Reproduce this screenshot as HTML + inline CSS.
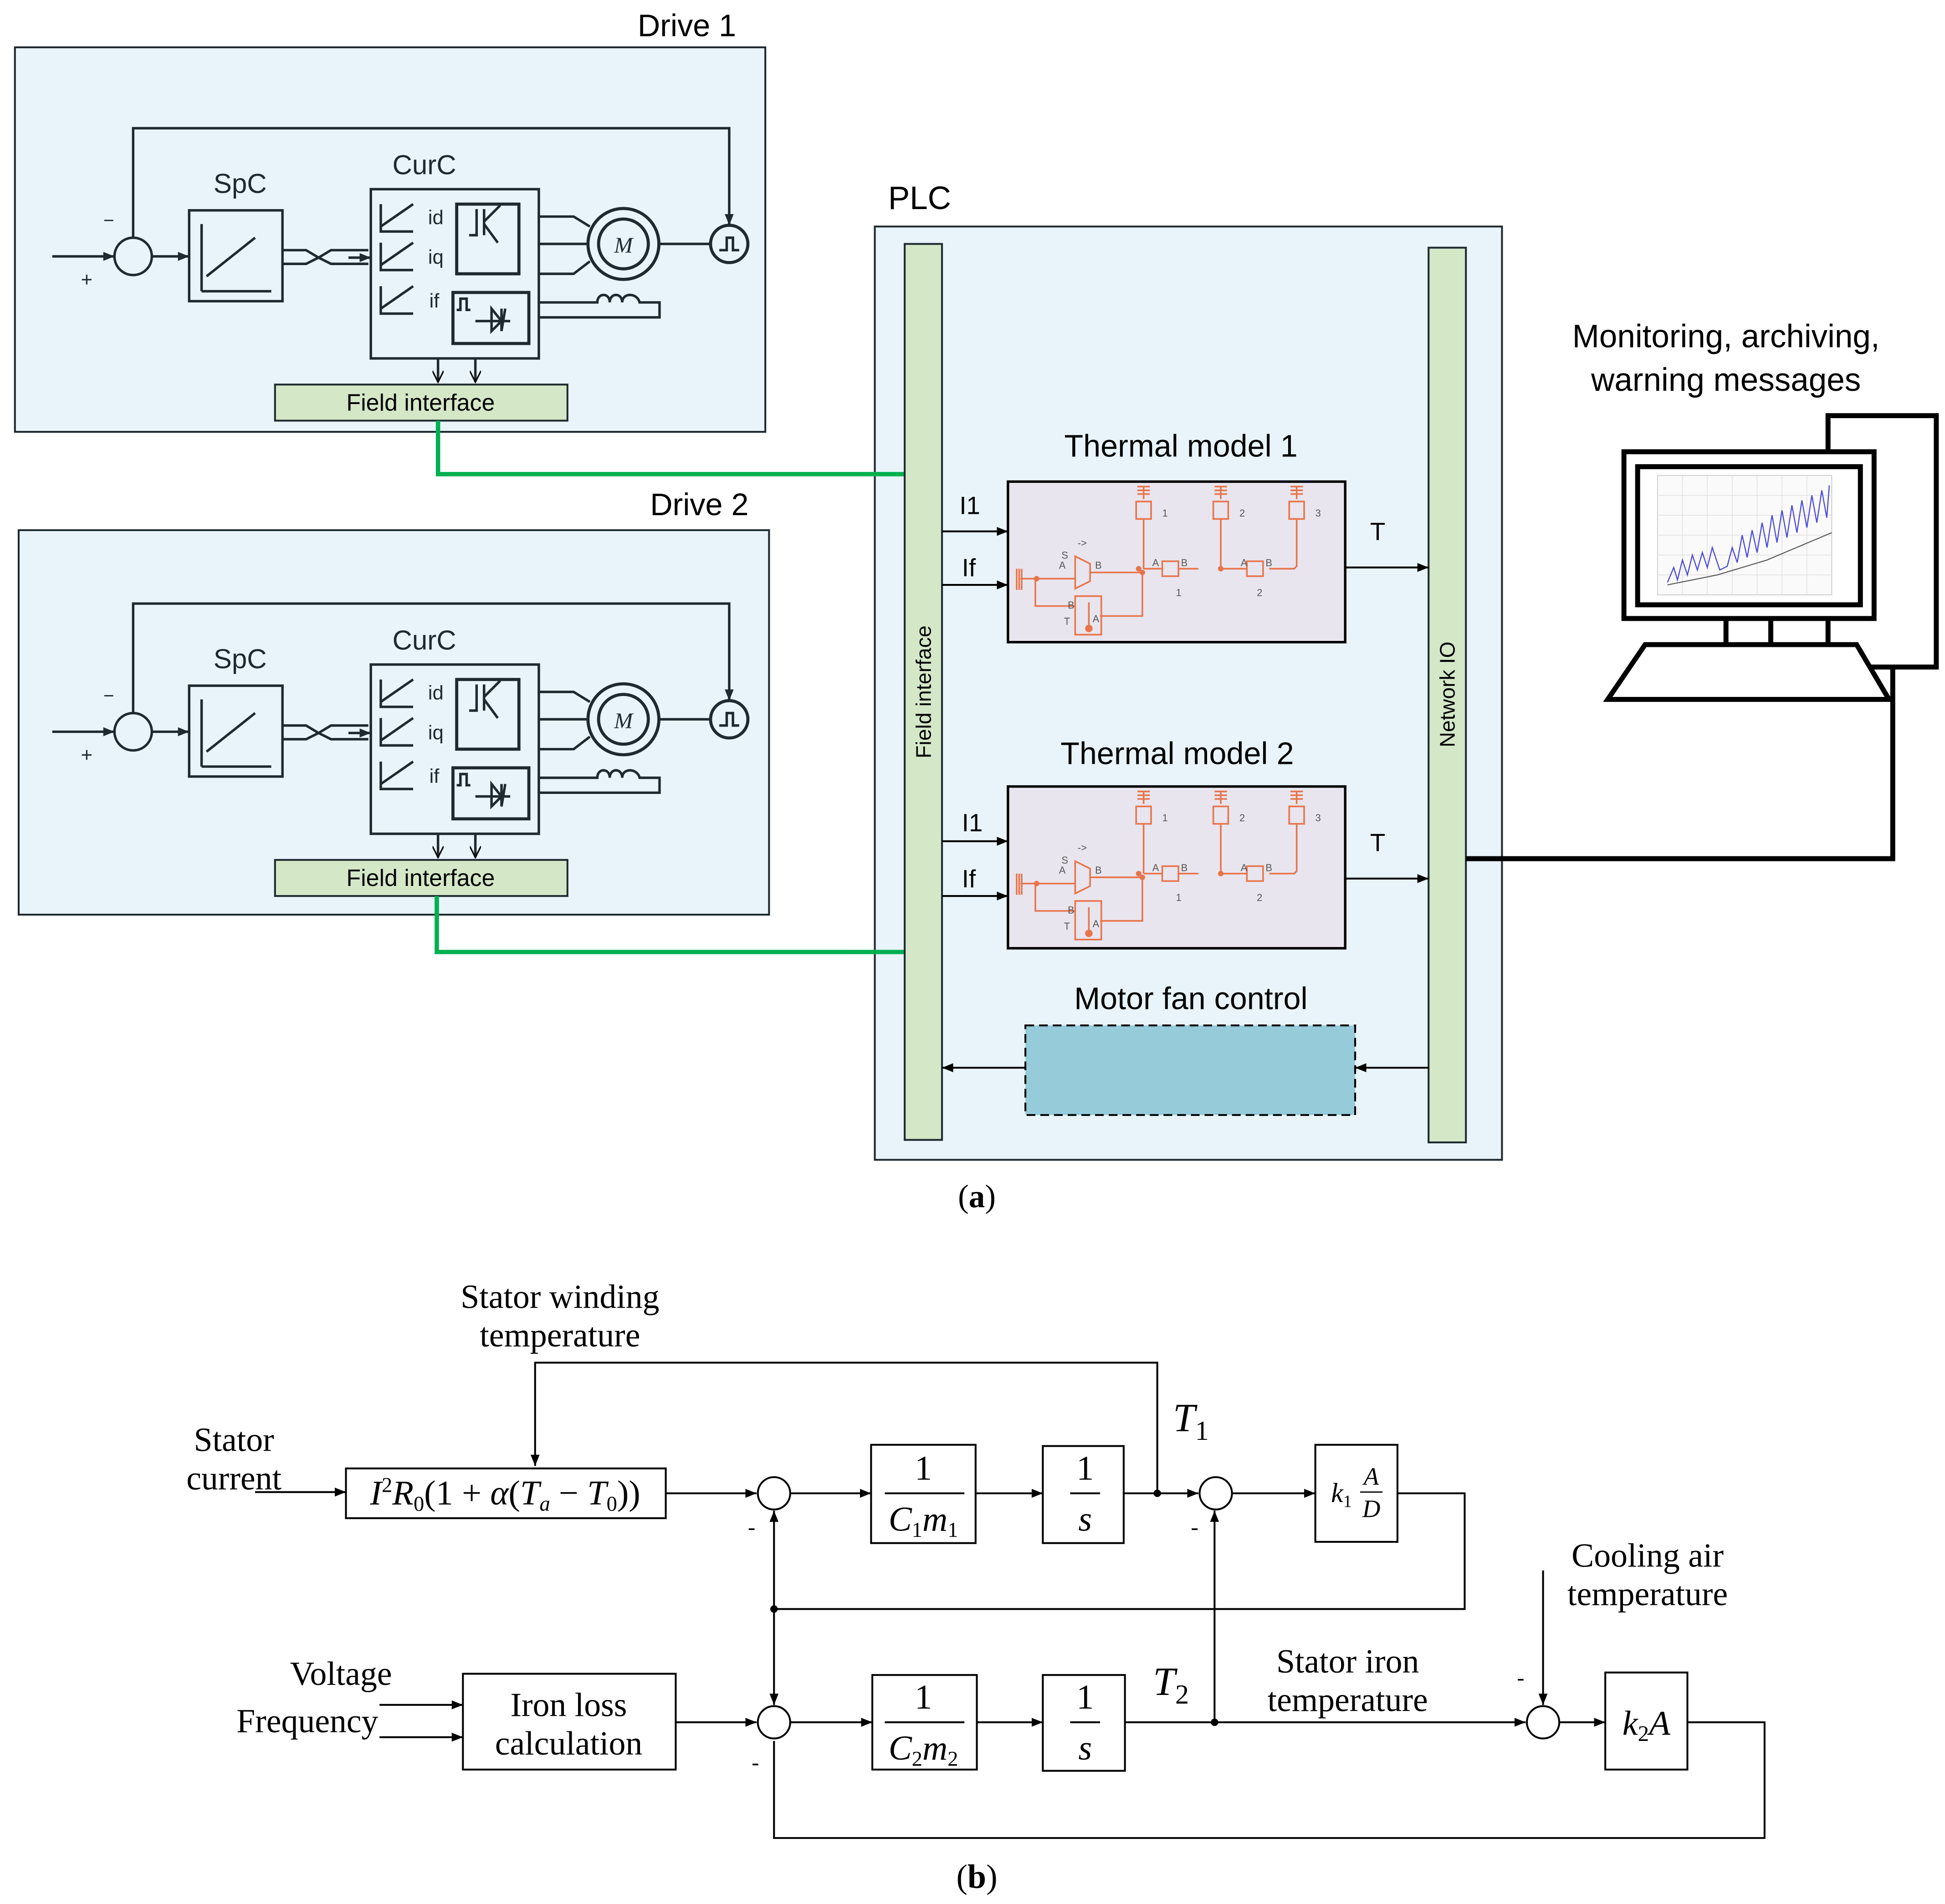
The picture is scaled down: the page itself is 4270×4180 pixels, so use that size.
<!DOCTYPE html>
<html><head><meta charset="utf-8"><style>
html,body{margin:0;padding:0;background:#fff}
svg{display:block}
.s{font-family:"Liberation Sans","DejaVu Sans",sans-serif}
.r{font-family:"Liberation Serif",serif}
</style></head><body>
<svg width="4270" height="4180" viewBox="0 0 1563 1530" xmlns="http://www.w3.org/2000/svg">
<defs>
<marker id="a" viewBox="0 0 10 10" refX="10" refY="5" markerWidth="9" markerHeight="9" markerUnits="userSpaceOnUse" orient="auto"><path d="M0,1 L10,5 L0,9 z" fill="#000"/></marker>
<marker id="ad" viewBox="0 0 10 10" refX="10" refY="5" markerWidth="9" markerHeight="9" markerUnits="userSpaceOnUse" orient="auto"><path d="M0,1 L10,5 L0,9 z" fill="#1e2a30"/></marker>
<marker id="ao" viewBox="0 0 10 10" refX="10" refY="5" markerWidth="11" markerHeight="9" markerUnits="userSpaceOnUse" orient="auto"><path d="M0,0 L10,5 L0,10" fill="none" stroke="#000" stroke-width="1.3"/></marker>
</defs>

<rect x="12" y="38" width="603" height="309" fill="#e8f4f9" stroke="#1e2a30" stroke-width="1.5"/>
<rect x="15" y="426" width="603" height="309" fill="#e8f4f9" stroke="#1e2a30" stroke-width="1.5"/>
<text x="552" y="29" class="s" font-size="25" text-anchor="middle">Drive 1</text>
<text x="562" y="414" class="s" font-size="25" text-anchor="middle">Drive 2</text>

<g stroke="#1e2a30" stroke-width="2" fill="none">
<path d="M107,191 V103 H586 V181" marker-end="url(#ad)"/>
<circle cx="107" cy="206" r="15"/>
<line x1="42" y1="206" x2="92" y2="206" marker-end="url(#ad)"/>
<line x1="122" y1="206" x2="152" y2="206" marker-end="url(#ad)"/>
<rect x="152" y="169" width="75" height="73"/>
<path d="M162,234 V180 M162,234 H218 M166,222 L205,191"/>
<path d="M227,201 H246 L256,207 L266,201 H296 M227,212 H246 L256,207 L266,212 H296"/>
<line x1="280" y1="207" x2="298" y2="207" marker-end="url(#ad)"/>
<rect x="298" y="152" width="135" height="136"/>
<path d="M306,164 V186 H332 M306,182 L332,164"/>
<path d="M306,195 V217 H332 M306,213 L332,195"/>
<path d="M306,230 V252 H332 M306,248 L332,230"/>
<rect x="367" y="164" width="50" height="56" stroke-width="2.5"/>
<path d="M377,189 H383 V168 M389,168 V189 M389,178 L402,165 M389,180 L400,195"/>
<rect x="364" y="235" width="61" height="41" stroke-width="2.5"/>
<path d="M367,249 H370 V240 H375 V249 H378 M382,258 H410 M395,248 L403,258 L395,266 Z M403,248 V266 L406,248"/>
<path d="M433,174 H461 L474,182 M433,196 H473 M433,220 H461 L474,210"/>
<circle cx="501" cy="196" r="28.5" stroke-width="2.5"/>
<circle cx="501" cy="196" r="20" stroke-width="2.5"/>
<line x1="529" y1="196" x2="571" y2="196"/>
<circle cx="586" cy="196" r="15" stroke-width="2.5"/>
<path d="M578,201 H584 V191 H589 V201 H594"/>
<path d="M433,243 H480 C480,235 490,235 490,243 C490,235 500,235 500,243 C500,235 512,235 514,243 H530 V255 H433"/>
<line x1="352" y1="288" x2="352" y2="307" marker-end="url(#ao)"/>
<line x1="382" y1="288" x2="382" y2="307" marker-end="url(#ao)"/>
</g>
<g class="s" font-size="16" fill="#1e2a30">
<text x="344" y="180">id</text><text x="344" y="212">iq</text><text x="345" y="247">if</text>
<text x="83" y="182" font-size="15">−</text><text x="65" y="230">+</text>
</g>
<text x="193" y="155" class="s" font-size="22" text-anchor="middle" fill="#1e2a30">SpC</text>
<text x="341" y="140" class="s" font-size="22" text-anchor="middle" fill="#1e2a30">CurC</text>
<text x="501" y="203" class="r" font-size="18" font-style="italic" text-anchor="middle" fill="#1e2a30">M</text>
<rect x="221" y="309" width="235" height="29" fill="#d4e8c8" stroke="#1e2a30" stroke-width="1.5"/>
<text x="338" y="330" class="s" font-size="19" text-anchor="middle">Field interface</text>

<g transform="translate(0,382)">
<g stroke="#1e2a30" stroke-width="2" fill="none">
<path d="M107,191 V103 H586 V181" marker-end="url(#ad)"/>
<circle cx="107" cy="206" r="15"/>
<line x1="42" y1="206" x2="92" y2="206" marker-end="url(#ad)"/>
<line x1="122" y1="206" x2="152" y2="206" marker-end="url(#ad)"/>
<rect x="152" y="169" width="75" height="73"/>
<path d="M162,234 V180 M162,234 H218 M166,222 L205,191"/>
<path d="M227,201 H246 L256,207 L266,201 H296 M227,212 H246 L256,207 L266,212 H296"/>
<line x1="280" y1="207" x2="298" y2="207" marker-end="url(#ad)"/>
<rect x="298" y="152" width="135" height="136"/>
<path d="M306,164 V186 H332 M306,182 L332,164"/>
<path d="M306,195 V217 H332 M306,213 L332,195"/>
<path d="M306,230 V252 H332 M306,248 L332,230"/>
<rect x="367" y="164" width="50" height="56" stroke-width="2.5"/>
<path d="M377,189 H383 V168 M389,168 V189 M389,178 L402,165 M389,180 L400,195"/>
<rect x="364" y="235" width="61" height="41" stroke-width="2.5"/>
<path d="M367,249 H370 V240 H375 V249 H378 M382,258 H410 M395,248 L403,258 L395,266 Z M403,248 V266 L406,248"/>
<path d="M433,174 H461 L474,182 M433,196 H473 M433,220 H461 L474,210"/>
<circle cx="501" cy="196" r="28.5" stroke-width="2.5"/>
<circle cx="501" cy="196" r="20" stroke-width="2.5"/>
<line x1="529" y1="196" x2="571" y2="196"/>
<circle cx="586" cy="196" r="15" stroke-width="2.5"/>
<path d="M578,201 H584 V191 H589 V201 H594"/>
<path d="M433,243 H480 C480,235 490,235 490,243 C490,235 500,235 500,243 C500,235 512,235 514,243 H530 V255 H433"/>
<line x1="352" y1="288" x2="352" y2="307" marker-end="url(#ao)"/>
<line x1="382" y1="288" x2="382" y2="307" marker-end="url(#ao)"/>
</g>
<g class="s" font-size="16" fill="#1e2a30">
<text x="344" y="180">id</text><text x="344" y="212">iq</text><text x="345" y="247">if</text>
<text x="83" y="182" font-size="15">−</text><text x="65" y="230">+</text>
</g>
<text x="193" y="155" class="s" font-size="22" text-anchor="middle" fill="#1e2a30">SpC</text>
<text x="341" y="140" class="s" font-size="22" text-anchor="middle" fill="#1e2a30">CurC</text>
<text x="501" y="203" class="r" font-size="18" font-style="italic" text-anchor="middle" fill="#1e2a30">M</text>
<rect x="221" y="309" width="235" height="29" fill="#d4e8c8" stroke="#1e2a30" stroke-width="1.5"/>
<text x="338" y="330" class="s" font-size="19" text-anchor="middle">Field interface</text>
</g>

<rect x="703" y="182" width="504" height="750" fill="#e8f4f9" stroke="#1e2a30" stroke-width="1.5"/>
<text x="739" y="168" class="s" font-size="26" text-anchor="middle">PLC</text>
<path d="M352,338 V381 H728 M351,720 V765 H728" stroke="#00b050" stroke-width="3.5" fill="none"/>
<rect x="727" y="196" width="30" height="720" fill="#d4e8c8" stroke="#1e2a30" stroke-width="1.5"/>
<rect x="1148" y="199" width="30" height="719" fill="#d4e8c8" stroke="#1e2a30" stroke-width="1.5"/>
<text transform="translate(748,556) rotate(-90)" class="s" font-size="17" text-anchor="middle">Field interface</text>
<text transform="translate(1169,558) rotate(-90)" class="s" font-size="17" text-anchor="middle">Network IO</text>

<text x="949" y="367" class="s" font-size="25" text-anchor="middle">Thermal model 1</text>
<text x="946" y="614" class="s" font-size="25" text-anchor="middle">Thermal model 2</text>
<text x="957" y="811" class="s" font-size="25" text-anchor="middle">Motor fan control</text>

<g stroke="#000" stroke-width="1.5" fill="none">
<line x1="757" y1="427" x2="810" y2="427" marker-end="url(#a)"/>
<line x1="757" y1="470" x2="810" y2="470" marker-end="url(#a)"/>
<line x1="1081" y1="456" x2="1148" y2="456" marker-end="url(#a)"/>
<line x1="757" y1="676" x2="810" y2="676" marker-end="url(#a)"/>
<line x1="757" y1="720" x2="810" y2="720" marker-end="url(#a)"/>
<line x1="1081" y1="706" x2="1148" y2="706" marker-end="url(#a)"/>
<line x1="1148" y1="858" x2="1089" y2="858" marker-end="url(#a)"/>
<line x1="824" y1="858" x2="757" y2="858" marker-end="url(#a)"/>
</g>
<g class="s" font-size="20">
<text x="771" y="413">I1</text><text x="773" y="463">If</text><text x="1101" y="434">T</text>
<text x="773" y="668">I1</text><text x="773" y="713">If</text><text x="1101" y="684">T</text>
</g>
<rect x="824" y="824" width="265" height="72" fill="#96ccd9" stroke="#000" stroke-width="1.5" stroke-dasharray="7,4"/>

<g transform="translate(810,387)">
<rect x="0" y="0" width="271" height="129" fill="#e9e5ee" stroke="#000" stroke-width="2"/>
<g stroke="#e8744a" stroke-width="1.3" fill="none">
<path d="M104,4 H114 M104,7 H114 M104,10 H114 M109,4 V14 M103,16 H115 V30 H103 Z"/>
<path d="M166,4 H176 M166,7 H176 M166,10 H176 M171,4 V14 M165,16 H177 V30 H165 Z"/>
<path d="M227,4 H237 M227,7 H237 M227,10 H237 M232,4 V14 M226,16 H238 V30 H226 Z"/>
<path d="M109,30 V70 M171,30 V70 M232,30 V68 L230,70 H210 M109,70 H124 M137,70 H153 M171,70 H192"/>
<rect x="124" y="64" width="13" height="12"/><rect x="192" y="64" width="13" height="12"/>
<path d="M7,70 V87 M9,70 V87 M11,70 V87 M10,78 H54 M54,60 L66,66 V80 L54,86 Z M66,73 H108 V108 H74 M22,78 V100 H54"/>
<rect x="54" y="92" width="21" height="31"/>
<path d="M65,97 V118"/>
</g>
<g fill="#e8744a"><circle cx="105" cy="70" r="2.2"/><circle cx="108" cy="73" r="2.2"/><circle cx="171" cy="70" r="2.2"/><circle cx="23" cy="78" r="2.2"/><circle cx="65" cy="118" r="3"/></g>
<g class="s" font-size="8" fill="#555"><text x="124" y="28">1</text><text x="186" y="28">2</text><text x="247" y="28">3</text><text x="135" y="92">1</text><text x="200" y="92">2</text>
<text x="116" y="68">A</text><text x="139" y="68">B</text><text x="187" y="68">A</text><text x="207" y="68">B</text><text x="41" y="70">A</text><text x="43" y="62">S</text><text x="70" y="70">B</text><text x="48" y="102">B</text><text x="45" y="115">T</text><text x="68" y="113">A</text><text x="56" y="52">-&gt;</text></g>
</g>
<g transform="translate(810,632)">
<rect x="0" y="0" width="271" height="130" fill="#e9e5ee" stroke="#000" stroke-width="2"/>
<g stroke="#e8744a" stroke-width="1.3" fill="none">
<path d="M104,4 H114 M104,7 H114 M104,10 H114 M109,4 V14 M103,16 H115 V30 H103 Z"/>
<path d="M166,4 H176 M166,7 H176 M166,10 H176 M171,4 V14 M165,16 H177 V30 H165 Z"/>
<path d="M227,4 H237 M227,7 H237 M227,10 H237 M232,4 V14 M226,16 H238 V30 H226 Z"/>
<path d="M109,30 V70 M171,30 V70 M232,30 V68 L230,70 H210 M109,70 H124 M137,70 H153 M171,70 H192"/>
<rect x="124" y="64" width="13" height="12"/><rect x="192" y="64" width="13" height="12"/>
<path d="M7,70 V87 M9,70 V87 M11,70 V87 M10,78 H54 M54,60 L66,66 V80 L54,86 Z M66,73 H108 V108 H74 M22,78 V100 H54"/>
<rect x="54" y="92" width="21" height="31"/>
<path d="M65,97 V118"/>
</g>
<g fill="#e8744a"><circle cx="105" cy="70" r="2.2"/><circle cx="108" cy="73" r="2.2"/><circle cx="171" cy="70" r="2.2"/><circle cx="23" cy="78" r="2.2"/><circle cx="65" cy="118" r="3"/></g>
<g class="s" font-size="8" fill="#555"><text x="124" y="28">1</text><text x="186" y="28">2</text><text x="247" y="28">3</text><text x="135" y="92">1</text><text x="200" y="92">2</text>
<text x="116" y="68">A</text><text x="139" y="68">B</text><text x="187" y="68">A</text><text x="207" y="68">B</text><text x="41" y="70">A</text><text x="43" y="62">S</text><text x="70" y="70">B</text><text x="48" y="102">B</text><text x="45" y="115">T</text><text x="68" y="113">A</text><text x="56" y="52">-&gt;</text></g>
</g>

<text x="1387" y="279" class="s" font-size="26" text-anchor="middle">Monitoring, archiving,</text>
<text x="1387" y="314" class="s" font-size="26" text-anchor="middle">warning messages</text>
<g stroke="#000" stroke-width="4" fill="none">
<rect x="1469" y="334" width="87" height="202" fill="#fff"/>
<rect x="1305" y="363" width="201" height="134" fill="#fff"/>
<rect x="1316" y="375" width="179" height="111"/>
<path d="M1387,497 V518 M1423,497 V518"/>
<path d="M1322,518 H1492 L1518,562 H1292 Z" fill="#fff"/>
<path d="M1178,690 H1521 V536"/>
</g>
<rect x="1332" y="382" width="140" height="96" fill="#fafafa" stroke="#ccc" stroke-width="0.7"/>
<g stroke="#ddd" stroke-width="0.5"><path d="M1352,382V478M1372,382V478M1392,382V478M1412,382V478M1432,382V478M1452,382V478M1332,398H1472M1332,414H1472M1332,430H1472M1332,446H1472M1332,462H1472"/></g>
<path d="M1340,470 L1380,462 L1420,450 L1472,428" stroke="#555" stroke-width="0.8" fill="none"/>
<path d="M1340,468 L1345,456 L1348,466 L1352,450 L1356,462 L1360,446 L1364,458 L1368,444 L1372,456 L1376,440 L1382,458 L1388,455 L1392,440 L1396,452 L1400,430 L1404,448 L1408,426 L1412,444 L1416,420 L1420,440 L1424,414 L1428,436 L1432,410 L1436,432 L1440,406 L1444,428 L1448,402 L1452,424 L1456,398 L1460,420 L1464,394 L1468,416 L1470,390" stroke="#4a4ae0" stroke-width="0.9" fill="none"/>

<text x="785" y="970" class="r" font-size="26" text-anchor="middle">(<tspan font-weight="bold">a</tspan>)</text>

<g class="r" font-size="27" text-anchor="middle">
<text x="450" y="1051">Stator winding</text><text x="450" y="1082">temperature</text>
<text x="188" y="1166">Stator</text><text x="188" y="1197">current</text>
<text x="274" y="1354">Voltage</text><text x="247" y="1392">Frequency</text>
<text x="457" y="1379">Iron loss</text><text x="457" y="1410">calculation</text>
<text x="1083" y="1344">Stator iron</text><text x="1083" y="1375">temperature</text>
<text x="1324" y="1259">Cooling air</text><text x="1324" y="1290">temperature</text>
<text x="785" y="1517">(<tspan font-weight="bold">b</tspan>)</text>
</g>
<g stroke="#000" stroke-width="1.5" fill="none">
<path d="M930,1200 V1095 H430 V1178" marker-end="url(#a)"/>
<line x1="205" y1="1199" x2="278" y2="1199" marker-end="url(#a)"/>
<rect x="278" y="1180" width="257" height="40"/>
<line x1="535" y1="1200" x2="608" y2="1200" marker-end="url(#a)"/>
<circle cx="622" cy="1200" r="13"/>
<line x1="635" y1="1200" x2="700" y2="1200" marker-end="url(#a)"/>
<rect x="700" y="1161" width="84" height="79"/>
<line x1="784" y1="1200" x2="838" y2="1200" marker-end="url(#a)"/>
<rect x="838" y="1162" width="65" height="78"/>
<line x1="903" y1="1200" x2="963" y2="1200" marker-end="url(#a)"/>
<circle cx="977" cy="1200" r="13"/>
<line x1="990" y1="1200" x2="1057" y2="1200" marker-end="url(#a)"/>
<rect x="1057" y="1161" width="66" height="78"/>
<path d="M1123,1200 H1177 V1293 H622"/>
<line x1="622" y1="1293" x2="622" y2="1214" marker-end="url(#a)"/>
<line x1="622" y1="1293" x2="622" y2="1370" marker-end="url(#a)"/>
<line x1="305" y1="1370" x2="372" y2="1370" marker-end="url(#a)"/>
<line x1="305" y1="1396" x2="372" y2="1396" marker-end="url(#a)"/>
<rect x="372" y="1345" width="171" height="77"/>
<line x1="543" y1="1384" x2="608" y2="1384" marker-end="url(#a)"/>
<circle cx="622" cy="1384" r="13"/>
<line x1="635" y1="1384" x2="701" y2="1384" marker-end="url(#a)"/>
<rect x="701" y="1346" width="84" height="76"/>
<line x1="785" y1="1384" x2="838" y2="1384" marker-end="url(#a)"/>
<rect x="838" y="1346" width="66" height="77"/>
<line x1="904" y1="1384" x2="1226" y2="1384" marker-end="url(#a)"/>
<line x1="976" y1="1384" x2="976" y2="1214" marker-end="url(#a)"/>
<circle cx="1240" cy="1384" r="13"/>
<line x1="1240" y1="1262" x2="1240" y2="1370" marker-end="url(#a)"/>
<line x1="1253" y1="1384" x2="1290" y2="1384" marker-end="url(#a)"/>
<rect x="1290" y="1344" width="66" height="78"/>
<path d="M1356,1384 H1418 V1477 H622 V1399"/>
<line x1="711" y1="1200" x2="775" y2="1200"/>
<line x1="860" y1="1200" x2="884" y2="1200"/>
<line x1="711" y1="1384" x2="775" y2="1384"/>
<line x1="860" y1="1384" x2="884" y2="1384"/>
</g>
<g fill="#000"><circle cx="930" cy="1200" r="3"/><circle cx="622" cy="1293" r="3"/><circle cx="976" cy="1384" r="3"/></g>
<g class="r" font-size="18"><text x="601" y="1233">-</text><text x="957" y="1233">-</text><text x="1219" y="1354">-</text><text x="604" y="1422">-</text></g>
<g class="r" font-size="28" text-anchor="middle">
<text x="406" y="1209"><tspan font-style="italic">I</tspan><tspan font-size="17" dy="-10">2</tspan><tspan dy="10" font-style="italic">R</tspan><tspan font-size="17" dy="5">0</tspan><tspan dy="-5">(1 + </tspan><tspan font-style="italic">α</tspan>(<tspan font-style="italic">T</tspan><tspan font-size="17" font-style="italic" dy="5">a</tspan><tspan dy="-5"> − </tspan><tspan font-style="italic">T</tspan><tspan font-size="17" dy="5">0</tspan><tspan dy="-5">))</tspan></text>
<text x="742" y="1189">1</text>
<text x="742" y="1230"><tspan font-style="italic">C</tspan><tspan font-size="17" dy="5">1</tspan><tspan dy="-5" font-style="italic">m</tspan><tspan font-size="17" dy="5">1</tspan></text>
<text x="872" y="1189">1</text><text x="872" y="1230" font-style="italic">s</text>
<text x="742" y="1373">1</text>
<text x="742" y="1414"><tspan font-style="italic">C</tspan><tspan font-size="17" dy="5">2</tspan><tspan dy="-5" font-style="italic">m</tspan><tspan font-size="17" dy="5">2</tspan></text>
<text x="872" y="1373">1</text><text x="872" y="1414" font-style="italic">s</text>
<text x="1323" y="1394"><tspan font-style="italic">k</tspan><tspan font-size="18" dy="5">2</tspan><tspan dy="-5" font-style="italic">A</tspan></text>
<text x="1078" y="1207" font-size="22"><tspan font-style="italic">k</tspan><tspan font-size="14" dy="4">1</tspan></text>
<text x="1102" y="1193" font-size="20" font-style="italic">A</text>
<text x="1102" y="1219" font-size="20" font-style="italic">D</text>
<text x="957" y="1150" font-size="32"><tspan font-style="italic">T</tspan><tspan font-size="22" dy="7">1</tspan></text>
<text x="941" y="1362" font-size="32"><tspan font-style="italic">T</tspan><tspan font-size="22" dy="7">2</tspan></text>
</g>
<line x1="1093" y1="1199" x2="1111" y2="1199" stroke="#000" stroke-width="1"/>
</svg>
</body></html>
